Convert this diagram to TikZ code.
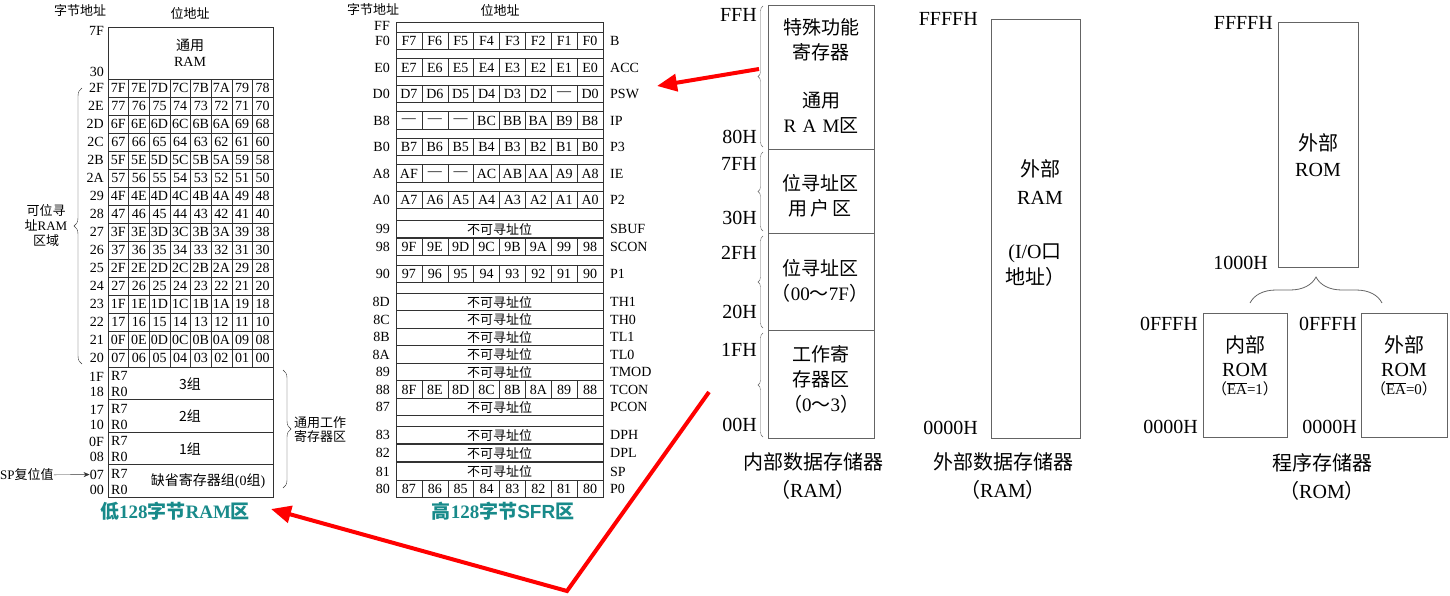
\documentclass[tikz,border=0pt]{standalone}
\usepackage{fontspec}
\setmainfont{Liberation Serif}
\newfontfamily\cjk{Noto Sans CJK SC}
\newfontfamily\sfb{Liberation Sans}
\usetikzlibrary{arrows.meta,decorations.pathreplacing,positioning}
\newcommand\zh[1]{{\cjk #1}}
\definecolor{titlecol}{RGB}{24,138,138}
\definecolor{linecol}{RGB}{50,50,50}
\definecolor{boxcol}{RGB}{100,100,100}
\tikzset{
  cell/.style={font=\fontsize{14}{15}\selectfont, inner sep=0pt},
  small/.style={font=\fontsize{13}{14}\selectfont, inner sep=0pt, align=center},
  addr/.style={font=\fontsize{20}{22}\selectfont, inner sep=0pt, anchor=east},
  memtxt/.style={font=\fontsize{19}{25}\selectfont, inner sep=0pt, align=center},
  caption/.style={font=\fontsize{20}{28}\selectfont, inner sep=0pt, align=center},
  title/.style={font=\fontsize{19}{20}\selectfont\bfseries, text=titlecol, inner sep=0pt},
  curly/.style={decorate, decoration={brace, amplitude=#1}},
  redarrow/.style={draw=red, line width=4pt, -{Triangle[length=20pt,width=17pt]}},
}
\begin{document}
\begin{tikzpicture}[x=1pt,y=-1pt]
\useasboundingbox (0,0) rectangle (1450,595);

% 低128字节RAM区 (table on the left)
\node[small] (lbyte) at (80,11) {\zh{字节地址}};
\node[small] (lbit) at (190,13) {\zh{位地址}};
\draw[linecol] (108,27) rectangle (273,497);
\node[small, font=\fontsize{14}{16}\selectfont] (uram) at (190,53) {\zh{通用}\\RAM};
\node[cell, anchor=east] (l7F) at (104,31) {7F};
\node[cell, anchor=east] (l30) at (104,72) {30};
% bit addressable rows 2F..20
\foreach \ry in {79,97,...,367} \draw[linecol] (108,\ry) -- (273,\ry);
\foreach \k in {1,...,7} \draw[linecol] (108+20.625*\k,79) -- (108+20.625*\k,367);
\foreach \i in {0,...,15} {
  \pgfmathsetmacro\ry{79+18*\i}
  \pgfmathtruncatemacro\byte{47-\i}
  \pgfmathparse{Hex(\byte)}\edef\bx{\pgfmathresult}
  \node[cell, anchor=east] (lb\i) at (104,\ry+9) {\bx};
  \foreach \j in {0,...,7} {
    \pgfmathtruncatemacro\bit{(15-\i)*8+7-\j}
    \pgfmathparse{Hex(\bit)}
    \ifnum\bit<16 \edef\hx{0\pgfmathresult}\else\edef\hx{\pgfmathresult}\fi
    \node[cell] (c\i-\j) at (118.3+20.625*\j,\ry+9) {\hx};
  }
}
% register banks
\foreach \ry in {399.5,432,464.5} \draw[linecol] (108,\ry) -- (273,\ry);
\foreach \hi/\lo/\ry/\gx/\grp [count=\k] in {1F/18/367/190/{\zh{3组}}, 17/10/399.5/190/{\zh{2组}},
    0F/08/432/190/{\zh{1组}}, 07/00/464.5/208/{\zh{缺省寄存器组}(0\zh{组})}} {
  \node[cell, anchor=east] (h\k) at (104,\ry+10) {\hi};
  \node[cell, anchor=east] (o\k) at (104,\ry+25) {\lo};
  \node[cell, anchor=west] (r7\k) at (111,\ry+9) {R7};
  \node[cell, anchor=west] (r0\k) at (111,\ry+25) {R0};
  \node[cell] (g\k) at (\gx,\ry+17) {\grp};
}
\node[small, anchor=west] (sp) at (0,475) {SP\zh{复位值}};
\draw[linecol, -{Stealth[length=6pt,width=5pt]}] (sp) -- (h4);
% braces
\draw[linecol, curly=8pt] (82,364) -- (82,88);
\node[font=\fontsize{13}{15}\selectfont, inner sep=0pt, align=center] (bitarea) at (46,226)
  {\zh{可位寻}\\\zh{址}RAM\\\zh{区域}};
\draw[linecol, curly=8pt] (283,370) -- (283,488);
\node[small, anchor=west, align=left] (wreg) at (294,430) {\zh{通用工作}\\\zh{寄存器区}};
\node[title] (ramtitle) at (175,511) {\zh{低}128\zh{字节}RAM\zh{区}};

% 高128字节SFR区 (table in the middle)
\node[small] (hbyte) at (373,10) {\zh{字节地址}};
\node[small] (hbit) at (500,10) {\zh{位地址}};
\draw[linecol] (396,22) rectangle (603,497.5);
\node[cell, anchor=east] (hFF) at (390,26) {FF};
\foreach \ry/\byte/\reg/\bits in {
    32/F0/B/{F7,F6,F5,F4,F3,F2,F1,F0},
    58.5/E0/ACC/{E7,E6,E5,E4,E3,E2,E1,E0},
    85/D0/PSW/{D7,D6,D5,D4,D3,D2,—,D0},
    111.5/B8/IP/{—,—,—,BC,BB,BA,B9,B8},
    138/B0/P3/{B7,B6,B5,B4,B3,B2,B1,B0},
    164.5/A8/IE/{AF,—,—,AC,AB,AA,A9,A8},
    191/A0/P2/{A7,A6,A5,A4,A3,A2,A1,A0},
    238/98/SCON/{9F,9E,9D,9C,9B,9A,99,98},
    265/90/P1/{97,96,95,94,93,92,91,90},
    380.5/88/TCON/{8F,8E,8D,8C,8B,8A,89,88},
    480/80/P0/{87,86,85,84,83,82,81,80}} {
  \draw[linecol] (396,\ry) rectangle (603,\ry+17.5);
  \foreach \k in {1,...,7} \draw[linecol] (396+25.875*\k,\ry) -- (396+25.875*\k,\ry+17.5);
  \foreach \b [count=\j] in \bits \node[cell] (s\byte-\j) at (383.06+25.875*\j,\ry+9) {\b};
  \node[cell, anchor=east] (hb\byte) at (390,\ry+9) {\byte};
  \node[cell, anchor=west] (reg\reg) at (610,\ry+9) {\reg};
}
\foreach \ry/\byte/\reg in {220/99/SBUF, 293/8D/TH1, 310.5/8C/TH0, 328/8B/TL1, 345.5/8A/TL0,
    363/89/TMOD, 398/87/PCON, 426/83/DPH, 444/82/DPL, 462.5/81/SP} {
  \draw[linecol] (396,\ry) rectangle (603,\ry+17.5);
  \node[cell, font=\fontsize{13}{14}\selectfont] (na\byte) at (499.5,\ry+9) {\zh{不可寻址位}};
  \node[cell, anchor=east] (hb\byte) at (390,\ry+9) {\byte};
  \node[cell, anchor=west] (reg\reg) at (610,\ry+9) {\reg};
}
\node[title] (sfrtitle) at (503,511) {\zh{高}128\zh{字节}{\sfb SFR}\zh{区}};

% 内部数据存储器
\draw[boxcol] (768,5) rectangle (874,438);
\foreach \ry in {149,233,330} \draw[boxcol] (768,\ry) -- (874,\ry);
\draw[boxcol, curly=5pt] (763,147) -- (763,6);
\draw[boxcol, curly=5pt] (763,231) -- (763,152);
\draw[boxcol, curly=5pt] (763,328) -- (763,236);
\draw[boxcol, curly=5pt] (763,437) -- (763,333);
\node[addr] (aFF) at (757,15) {FFH};
\node[addr] (a80) at (757,137) {80H};
\node[addr] (a7F) at (757,164) {7FH};
\node[addr] (a30) at (757,218) {30H};
\node[addr] (a2F) at (757,253) {2FH};
\node[addr] (a20) at (757,312) {20H};
\node[addr] (a1F) at (757,350) {1FH};
\node[addr] (a00) at (757,425) {00H};
\node[memtxt] (sfr) at (821,40) {\zh{特殊功能}\\\zh{寄存器}};
\node[memtxt] (gram) at (821,113) {\zh{通用}\\R\,\,A\,\,M\zh{区}};
\node[memtxt] (user) at (820,196) {\zh{位寻址区}\\\zh{用\,户\,区}};
\node[memtxt] (bitz) at (820,281) {\zh{位寻址区}\\\zh{（}00\zh{～}7F\zh{）}};
\node[memtxt] (wrk) at (821,379) {\zh{工作寄}\\\zh{存器区}\\\zh{（}0\zh{～}3\zh{）}};
\node[caption] (incap) at (813,476) {\zh{内部数据存储器}\\\zh{（}RAM\zh{）}};

% 外部数据存储器
\draw[boxcol] (991,19) rectangle (1080,438);
\node[addr] (eFFFF) at (978,19) {FFFFH};
\node[addr] (e0000) at (978,428) {0000H};
\node[memtxt, font=\fontsize{20}{28}\selectfont] (xram) at (1040,182) {\zh{外部}\\RAM};
\node[memtxt, font=\fontsize{20}{26}\selectfont] (io) at (1035,265) {(I/O\zh{口}\\\zh{地址）}};
\node[caption] (excap) at (1003,476) {\zh{外部数据存储器}\\\zh{（}RAM\zh{）}};

% 程序存储器
\draw[boxcol] (1278,22) rectangle (1358,267);
\node[addr] (pFFFF) at (1273,23) {FFFFH};
\node[addr] (p1000) at (1268,263) {1000H};
\node[memtxt, font=\fontsize{20}{26}\selectfont] (xrom) at (1318,155) {\zh{外部}\\ROM};
\draw[boxcol, thick, curly=26pt] (1250,303) -- (1382,303);
\draw[boxcol] (1203,313) rectangle (1287,437);
\draw[boxcol] (1361,313) rectangle (1447,437);
\node[addr] (iFFF) at (1198,324) {0FFFH};
\node[addr] (i0000) at (1198,427) {0000H};
\node[addr] (oFFF) at (1357,324) {0FFFH};
\node[addr] (o0000) at (1357,427) {0000H};
\node[memtxt, font=\fontsize{20}{24}\selectfont] (inrom) at (1245,356) {\zh{内部}\\ROM};
\node[font=\fontsize{15}{16}\selectfont, inner sep=0pt, below=5pt of inrom] (ea1)
  {\zh{（}$\overline{\hbox{EA}}$=1\zh{）}};
\node[memtxt, font=\fontsize{20}{24}\selectfont] (exrom) at (1404,356) {\zh{外部}\\ROM};
\node[font=\fontsize{15}{16}\selectfont, inner sep=0pt, below=5pt of exrom] (ea0)
  {\zh{（}$\overline{\hbox{EA}}$=0\zh{）}};
\node[caption] (pcap) at (1322,477) {\zh{程序存储器}\\\zh{（}ROM\zh{）}};

% red arrows
\coordinate (sfrtip) at (759,69);
\coordinate (pswpt) at (657,86);
\draw[redarrow] (sfrtip) -- (pswpt);
\coordinate (regtip) at (709,392);
\coordinate (bend) at (567,591);
\coordinate (lowtip) at (271,509);
\draw[redarrow] (regtip) -- (bend) -- (lowtip);
\end{tikzpicture}
\end{document}
